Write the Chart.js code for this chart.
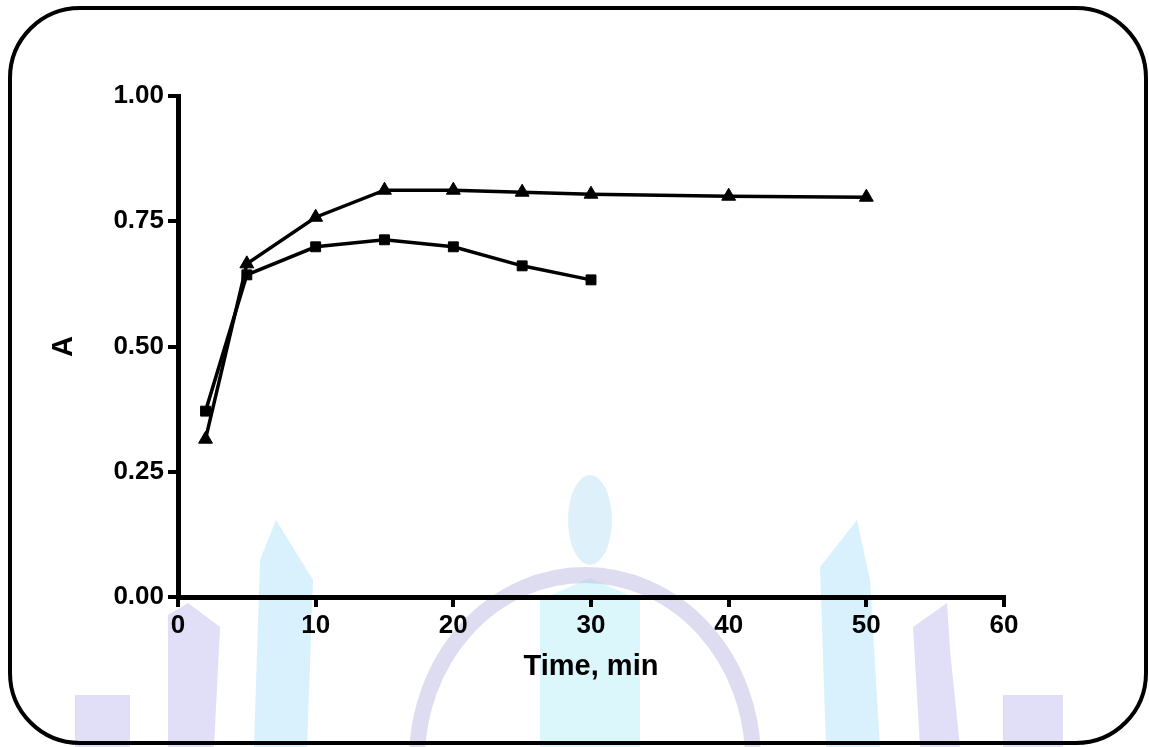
<!DOCTYPE html>
<html>
<head>
<meta charset="utf-8">
<script src="https://cdn.jsdelivr.net/npm/chart.js@4"></script>
<style>
  body { margin: 0; background: #fff; }
  #wrap { width: 1149px; height: 747px; }
</style>
</head>
<body>
<div id="wrap"><canvas id="absChart" width="1149" height="747"></canvas></div>
<script>
// values
const squareTimes = [2, 5, 10, 15, 20, 25, 30];
const squareA = [0.371, 0.643, 0.699, 0.713, 0.699, 0.661, 0.633];
const triangleTimes = [2, 5, 10, 15, 20, 25, 30, 40, 50];
const triangleA = [0.315, 0.665, 0.758, 0.812, 0.812, 0.808, 0.804, 0.800, 0.798];
const xTicks = [0, 10, 20, 30, 40, 50, 60];
const yTicks = [0, 0.25, 0.5, 0.75, 1.0];

const toPoints = (xs, ys) => xs.map((x, i) => ({ x: x, y: ys[i] }));

// faint watermark + rounded frame behind the plot
const backdrop = {
    id: 'backdrop',
    beforeDraw(chart) {
        const ctx = chart.ctx;
        ctx.save();
        ctx.fillStyle = '#fff';
        ctx.fillRect(0, 0, chart.width, chart.height);

        const purple = 'rgba(200, 195, 240, 0.55)';
        const cyan = 'rgba(190, 232, 250, 0.6)';
        function poly(pts, color) {
            ctx.fillStyle = color;
            ctx.beginPath();
            ctx.moveTo(pts[0][0], pts[0][1]);
            for (let i = 1; i < pts.length; i++) ctx.lineTo(pts[i][0], pts[i][1]);
            ctx.closePath();
            ctx.fill();
        }
        poly([[75, 695], [130, 695], [130, 747], [75, 747]], purple);
        poly([[168, 615], [188, 603], [220, 627], [214, 747], [168, 747]], purple);
        poly([[260, 560], [276, 520], [313, 580], [307, 747], [254, 747]], cyan);
        poly([[820, 567], [857, 520], [870, 580], [880, 747], [826, 747]], cyan);
        poly([[913, 627], [947, 603], [950, 650], [960, 747], [920, 747]], purple);
        poly([[1003, 695], [1063, 695], [1063, 747], [1003, 747]], purple);

        // figure: head, shoulders, body
        ctx.fillStyle = 'rgba(190, 228, 245, 0.5)';
        ctx.beginPath();
        ctx.ellipse(590, 520, 22, 45, 0, 0, Math.PI * 2);
        ctx.fill();
        poly([[540, 600], [590, 578], [640, 600], [640, 747], [540, 747]], 'rgba(190, 240, 250, 0.55)');

        // arch
        ctx.strokeStyle = 'rgba(190, 185, 225, 0.5)';
        ctx.lineWidth = 16;
        ctx.beginPath();
        ctx.ellipse(585, 760, 168, 185, 0, Math.PI, Math.PI * 2);
        ctx.stroke();

        // rounded frame
        ctx.strokeStyle = '#000';
        ctx.lineWidth = 4;
        ctx.beginPath();
        ctx.roundRect(10, 8, 1136, 735, 70);
        ctx.stroke();
        ctx.restore();
    }
};

const tickFont = { family: '"Liberation Sans", Arial, sans-serif', size: 26, weight: 'bold' };
const titleFont = { family: '"Liberation Sans", Arial, sans-serif', size: 29, weight: 'bold' };

const ctx = document.getElementById('absChart').getContext('2d');
const absChart = new Chart(ctx, {
    type: 'line',
    data: {
        datasets: [{
            label: 'squares',
            data: toPoints(squareTimes, squareA),
            borderColor: '#000',
            backgroundColor: '#000',
            borderWidth: 3.5,
            pointStyle: 'rect',
            pointRadius: 7,
            pointBorderWidth: 1,
            tension: 0
        }, {
            label: 'triangles',
            data: toPoints(triangleTimes, triangleA),
            borderColor: '#000',
            backgroundColor: '#000',
            borderWidth: 3.5,
            pointStyle: 'triangle',
            pointRadius: 8,
            pointBorderWidth: 1,
            tension: 0
        }]
    },
    options: {
        responsive: false,
        animation: false,
        events: [],
        layout: { padding: { left: 0, top: 96, right: 145, bottom: 0 } },
        plugins: { legend: { display: false }, tooltip: { enabled: false } },
        scales: {
            x: {
                type: 'linear',
                min: 0,
                max: 60,
                afterBuildTicks: s => { s.ticks = xTicks.map(v => ({ value: v })); },
                afterFit: s => { s.height = 150; },
                ticks: { color: '#000', font: tickFont, padding: 3, maxRotation: 0 },
                grid: { drawOnChartArea: false, color: '#000', lineWidth: 4, tickLength: 10 },
                border: { color: '#000', width: 5 },
                title: { display: true, text: 'Time, min', color: '#000', font: titleFont, padding: { top: 0, bottom: 63 } }
            },
            y: {
                min: 0,
                max: 1,
                afterBuildTicks: s => { s.ticks = yTicks.map(v => ({ value: v })); },
                afterFit: s => { s.width = 178; },
                ticks: { color: '#000', font: tickFont, padding: 4, callback: v => v.toFixed(2) },
                grid: { drawOnChartArea: false, color: '#000', lineWidth: 4, tickLength: 10 },
                border: { color: '#000', width: 5 },
                title: { display: true, text: 'A', color: '#000', font: titleFont, padding: { top: 47, bottom: 0 } }
            }
        }
    },
    plugins: [backdrop]
});
</script>
</body>
</html>
